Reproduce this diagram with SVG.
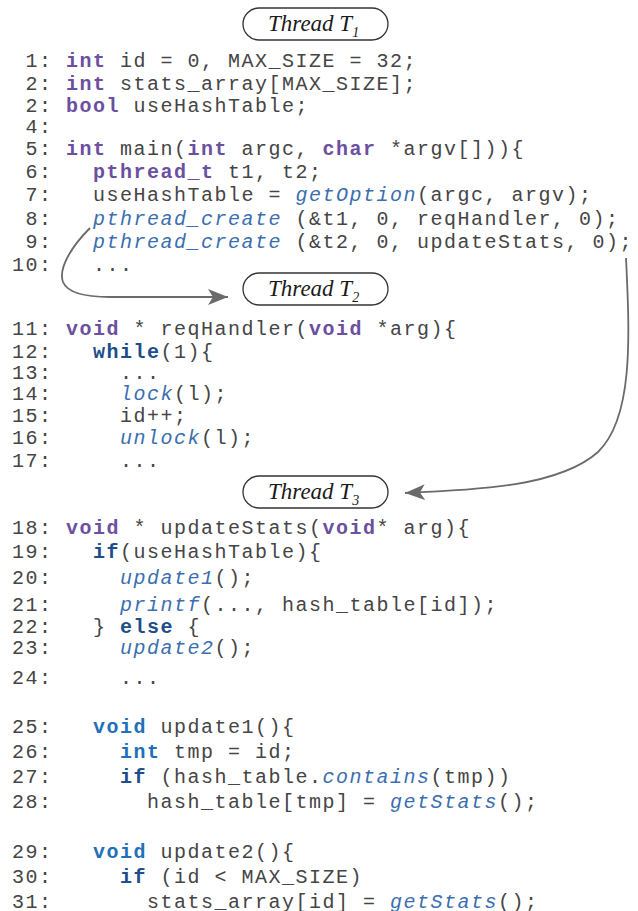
<svg xmlns="http://www.w3.org/2000/svg" width="638" height="911" viewBox="0 0 638 911">
  <style>
    .code { font-family: "Liberation Mono", "Courier New", monospace; font-size: 20px; letter-spacing: 1.5px; fill: #454545; white-space: pre; }
    .kw { font-weight: bold; fill: #6b4fa0; }
    .ctl { font-weight: bold; fill: #1d4e89; }
    .kw2 { font-weight: bold; fill: #1f70b8; }
    .fn { font-style: italic; fill: #3b6eaf; }
    .pill { fill: #ffffff; stroke: #333333; stroke-width: 1.3; }
    .label { font-family: "Liberation Serif", "Times New Roman", serif; font-style: italic; font-size: 23px; fill: #1a1a1a; }
    .sub { font-size: 14px; }
    .flow { fill: none; stroke: #6a6a6a; stroke-width: 1.8; }
  </style>
  <defs>
    <marker id="head" markerUnits="userSpaceOnUse" markerWidth="22" markerHeight="18" refX="20" refY="8" orient="auto">
      <path d="M0,0 L20,8 L0,16 L5,8 z" fill="#6a6a6a"/>
    </marker>
  </defs>

  <rect width="638" height="911" fill="#ffffff"/>

  <!-- thread labels -->
  <g id="thread-t1">
    <rect class="pill" x="243" y="8" width="145" height="32" rx="16"/>
    <text class="label" x="268" y="31">Thread T<tspan class="sub" dy="6">1</tspan></text>
  </g>
  <g id="thread-t2">
    <rect class="pill" x="243" y="273" width="145" height="32" rx="16"/>
    <text class="label" x="268" y="296">Thread T<tspan class="sub" dy="6">2</tspan></text>
  </g>
  <g id="thread-t3">
    <rect class="pill" x="243" y="476" width="145" height="32" rx="16"/>
    <text class="label" x="268" y="499">Thread T<tspan class="sub" dy="6">3</tspan></text>
  </g>

  <!-- globals and main -->
  <g id="code-main" class="code">
    <text x="12" y="67" xml:space="preserve"> 1: <tspan class="kw">int</tspan> id = 0, MAX_SIZE = 32;</text>
    <text x="12" y="90" xml:space="preserve"> 2: <tspan class="kw">int</tspan> stats_array[MAX_SIZE];</text>
    <text x="12" y="112" xml:space="preserve"> 2: <tspan class="kw">bool</tspan> useHashTable;</text>
    <text x="12" y="133" xml:space="preserve"> 4:</text>
    <text x="12" y="155" xml:space="preserve"> 5: <tspan class="kw">int</tspan> main(<tspan class="kw">int</tspan> argc, <tspan class="kw">char</tspan> *argv[])){</text>
    <text x="12" y="178" xml:space="preserve"> 6:   <tspan class="kw">pthread_t</tspan> t1, t2;</text>
    <text x="12" y="201" xml:space="preserve"> 7:   useHashTable = <tspan class="fn">getOption</tspan>(argc, argv);</text>
    <text x="12" y="225" xml:space="preserve"> 8:   <tspan class="fn">pthread_create</tspan> (&amp;t1, 0, reqHandler, 0);</text>
    <text x="12" y="248" xml:space="preserve"> 9:   <tspan class="fn">pthread_create</tspan> (&amp;t2, 0, updateStats, 0);</text>
    <text x="12" y="271" xml:space="preserve">10:   ...</text>
  </g>

  <!-- reqHandler -->
  <g id="code-reqhandler" class="code">
    <text x="12" y="335" xml:space="preserve">11: <tspan class="kw">void</tspan> * reqHandler(<tspan class="kw">void</tspan> *arg){</text>
    <text x="12" y="358" xml:space="preserve">12:   <tspan class="ctl">while</tspan>(1){</text>
    <text x="12" y="379" xml:space="preserve">13:     ...</text>
    <text x="12" y="400" xml:space="preserve">14:     <tspan class="fn">lock</tspan>(l);</text>
    <text x="12" y="422" xml:space="preserve">15:     id++;</text>
    <text x="12" y="444" xml:space="preserve">16:     <tspan class="fn">unlock</tspan>(l);</text>
    <text x="12" y="467" xml:space="preserve">17:     ...</text>
  </g>

  <!-- updateStats -->
  <g id="code-updatestats" class="code">
    <text x="12" y="534" xml:space="preserve">18: <tspan class="kw">void</tspan> * updateStats(<tspan class="kw">void</tspan>* arg){</text>
    <text x="12" y="558" xml:space="preserve">19:   <tspan class="ctl">if</tspan>(useHashTable){</text>
    <text x="12" y="584" xml:space="preserve">20:     <tspan class="fn">update1</tspan>();</text>
    <text x="12" y="611" xml:space="preserve">21:     <tspan class="fn">printf</tspan>(..., hash_table[id]);</text>
    <text x="12" y="633" xml:space="preserve">22:   } <tspan class="ctl">else</tspan> {</text>
    <text x="12" y="654" xml:space="preserve">23:     <tspan class="fn">update2</tspan>();</text>
    <text x="12" y="684" xml:space="preserve">24:     ...</text>
  </g>

  <!-- update1 / update2 -->
  <g id="code-updates" class="code">
    <text x="12" y="733" xml:space="preserve">25:   <tspan class="kw2">void</tspan> update1(){</text>
    <text x="12" y="758" xml:space="preserve">26:     <tspan class="kw2">int</tspan> tmp = id;</text>
    <text x="12" y="783" xml:space="preserve">27:     <tspan class="ctl">if</tspan> (hash_table.<tspan class="fn">contains</tspan>(tmp))</text>
    <text x="12" y="808" xml:space="preserve">28:       hash_table[tmp] = <tspan class="fn">getStats</tspan>();</text>
    <text x="12" y="858" xml:space="preserve">29:   <tspan class="kw2">void</tspan> update2(){</text>
    <text x="12" y="883" xml:space="preserve">30:     <tspan class="ctl">if</tspan> (id &lt; MAX_SIZE)</text>
    <text x="12" y="908" xml:space="preserve">31:       stats_array[id] = <tspan class="fn">getStats</tspan>();</text>
  </g>

  <!-- thread spawn connectors -->
  <g id="connectors">
    <path class="flow" d="M90,228 C72,246 58,268 63,282 C68,294 88,297 110,297 L228,297" marker-end="url(#head)"/>
    <path class="flow" d="M626,258 C630,340 633,418 598,452 C560,486 480,490 405,493" marker-end="url(#head)"/>
  </g>
</svg>
